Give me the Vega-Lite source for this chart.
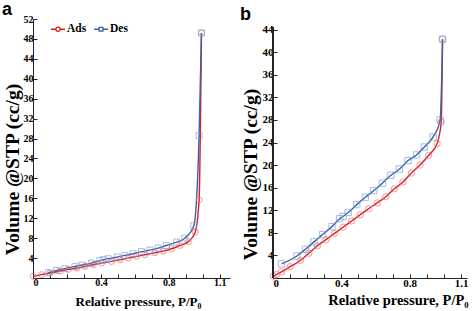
{
  "$schema": "https://vega.github.io/schema/vega-lite/v6.json",
  "padding": {"left": 2, "top": 1, "right": 2, "bottom": 2},
  "background": "white",
  "spacing": 10,
  "config": {
    "view": {"stroke": null},
    "font": "Liberation Serif",
    "axis": {
      "grid": false,
      "domainColor": "#222222",
      "tickColor": "#222222",
      "tickSize": -4,
      "labelOverlap": false,
      "labelBound": false,
      "labelFont": "Liberation Serif",
      "labelFontWeight": "bold",
      "labelColor": "#000000",
      "titleFont": "Liberation Serif",
      "titleFontWeight": "bold",
      "titleColor": "#000000"
    },
    "title": {"font": "Liberation Sans", "fontWeight": "bold", "fontSize": 18, "anchor": "start", "frame": "bounds", "color": "#000000"},
    "legend": {
      "orient": "none",
      "direction": "horizontal",
      "title": null,
      "symbolSize": 196,
      "symbolStrokeWidth": 1.3,
      "symbolFillColor": "transparent",
      "labelFont": "Liberation Serif",
      "labelFontWeight": "bold",
      "labelColor": "#000000",
      "labelOffset": 1,
      "columnPadding": 4
    }
  },
  "datasets": {
    "a": [
      {"series": "Ads", "p": 0.002, "v": 0.33},
      {"series": "Ads", "p": 0.051, "v": 0.67},
      {"series": "Ads", "p": 0.1, "v": 1.0},
      {"series": "Ads", "p": 0.159, "v": 1.4},
      {"series": "Ads", "p": 0.208, "v": 1.73},
      {"series": "Ads", "p": 0.257, "v": 2.0},
      {"series": "Ads", "p": 0.306, "v": 2.33},
      {"series": "Ads", "p": 0.355, "v": 2.67},
      {"series": "Ads", "p": 0.404, "v": 3.0},
      {"series": "Ads", "p": 0.463, "v": 3.33},
      {"series": "Ads", "p": 0.512, "v": 3.67},
      {"series": "Ads", "p": 0.561, "v": 4.0},
      {"series": "Ads", "p": 0.61, "v": 4.33},
      {"series": "Ads", "p": 0.659, "v": 4.67},
      {"series": "Ads", "p": 0.718, "v": 5.07},
      {"series": "Ads", "p": 0.767, "v": 5.4},
      {"series": "Ads", "p": 0.816, "v": 5.87},
      {"series": "Ads", "p": 0.865, "v": 6.53},
      {"series": "Ads", "p": 0.915, "v": 7.3},
      {"series": "Ads", "p": 0.955, "v": 9.2},
      {"series": "Ads", "p": 0.978, "v": 15.7},
      {"series": "Ads", "p": 0.992, "v": 49.2},
      {"series": "Des", "p": 0.09, "v": 1.07},
      {"series": "Des", "p": 0.139, "v": 1.53},
      {"series": "Des", "p": 0.188, "v": 1.87},
      {"series": "Des", "p": 0.247, "v": 2.33},
      {"series": "Des", "p": 0.29, "v": 2.6},
      {"series": "Des", "p": 0.345, "v": 3.0},
      {"series": "Des", "p": 0.394, "v": 3.5},
      {"series": "Des", "p": 0.414, "v": 3.67},
      {"series": "Des", "p": 0.443, "v": 3.87},
      {"series": "Des", "p": 0.496, "v": 4.2},
      {"series": "Des", "p": 0.541, "v": 4.53},
      {"series": "Des", "p": 0.59, "v": 4.87},
      {"series": "Des", "p": 0.639, "v": 5.3},
      {"series": "Des", "p": 0.688, "v": 5.6},
      {"series": "Des", "p": 0.737, "v": 6.0},
      {"series": "Des", "p": 0.786, "v": 6.53},
      {"series": "Des", "p": 0.845, "v": 7.2},
      {"series": "Des", "p": 0.894, "v": 8.0},
      {"series": "Des", "p": 0.947, "v": 10.5},
      {"series": "Des", "p": 0.978, "v": 28.6},
      {"series": "Des", "p": 0.992, "v": 49.2}
    ],
    "b": [
      {"series": "Ads", "p": 0.003, "v": 0.3},
      {"series": "Ads", "p": 0.02, "v": 0.6},
      {"series": "Ads", "p": 0.05, "v": 1.1},
      {"series": "Ads", "p": 0.1, "v": 2.0},
      {"series": "Ads", "p": 0.16, "v": 3.1},
      {"series": "Ads", "p": 0.21, "v": 4.4},
      {"series": "Ads", "p": 0.26, "v": 5.7},
      {"series": "Ads", "p": 0.31, "v": 6.8},
      {"series": "Ads", "p": 0.36, "v": 7.9},
      {"series": "Ads", "p": 0.41, "v": 9.0},
      {"series": "Ads", "p": 0.46, "v": 10.1},
      {"series": "Ads", "p": 0.51, "v": 11.2},
      {"series": "Ads", "p": 0.56, "v": 12.3},
      {"series": "Ads", "p": 0.61, "v": 13.3},
      {"series": "Ads", "p": 0.66, "v": 14.4},
      {"series": "Ads", "p": 0.71, "v": 15.8},
      {"series": "Ads", "p": 0.76, "v": 17.0},
      {"series": "Ads", "p": 0.81, "v": 18.6},
      {"series": "Ads", "p": 0.86, "v": 20.0},
      {"series": "Ads", "p": 0.91, "v": 21.7},
      {"series": "Ads", "p": 0.96, "v": 23.8},
      {"series": "Ads", "p": 0.984, "v": 27.6},
      {"series": "Ads", "p": 0.992, "v": 42.3},
      {"series": "Des", "p": 0.05, "v": 2.5},
      {"series": "Des", "p": 0.14, "v": 3.9},
      {"series": "Des", "p": 0.19, "v": 5.1},
      {"series": "Des", "p": 0.24, "v": 6.4},
      {"series": "Des", "p": 0.29, "v": 7.7},
      {"series": "Des", "p": 0.345, "v": 9.1},
      {"series": "Des", "p": 0.39, "v": 10.5},
      {"series": "Des", "p": 0.41, "v": 10.9},
      {"series": "Des", "p": 0.44, "v": 11.6},
      {"series": "Des", "p": 0.49, "v": 13.0},
      {"series": "Des", "p": 0.54, "v": 14.3},
      {"series": "Des", "p": 0.59, "v": 15.5},
      {"series": "Des", "p": 0.64, "v": 16.8},
      {"series": "Des", "p": 0.69, "v": 18.2},
      {"series": "Des", "p": 0.74, "v": 19.3},
      {"series": "Des", "p": 0.79, "v": 20.8},
      {"series": "Des", "p": 0.84, "v": 21.8},
      {"series": "Des", "p": 0.885, "v": 23.2},
      {"series": "Des", "p": 0.937, "v": 25.0},
      {"series": "Des", "p": 0.978, "v": 28.0},
      {"series": "Des", "p": 0.992, "v": 42.3}
    ]
  },
  "hconcat": [
    {
      "title": {"text": "a", "offset": -5},
      "width": 197,
      "height": 259,
      "data": {"name": "a"},
      "encoding": {
        "x": {"field": "p", "type": "quantitative", "scale": {"domain": [0, 1.16], "nice": false, "zero": false},
          "axis": {"values": [0, 0.1, 0.2, 0.3, 0.4, 0.5, 0.6, 0.7, 0.8, 0.9, 1.0, 1.1], "format": ".1~f",
            "labelExpr": "datum.value == 0 || datum.value == 0.4 || datum.value == 0.8 || datum.value == 1.1 ? datum.label : ''",
            "labelFontSize": 10, "labelPadding": 3, "titleFontSize": 13, "titlePadding": 8, "titleX": 105},
          "title": "Relative pressure, P/P₀"},
        "y": {"field": "v", "type": "quantitative", "scale": {"domain": [0, 52], "nice": false},
          "axis": {"values": [4, 8, 12, 16, 20, 24, 28, 32, 36, 40, 44, 48, 52], "labelFontSize": 10, "labelPadding": 4, "titleFontSize": 19.5, "titlePadding": 1, "titleY": 150},
          "title": "Volume @STP (cc/g)"}
      },
      "layer": [
        {
          "mark": {"type": "line", "interpolate": "monotone", "strokeWidth": 1.4},
          "encoding": {
            "color": {"field": "series", "type": "nominal", "scale": {"domain": ["Ads", "Des"], "range": ["#d91e25", "#3e5ea8"]},
              "legend": {"legendX": 17, "legendY": 2, "labelFontSize": 11.5,
                "encode": {"symbols": {"update": {"shape": {"signal": "datum.value === 'Ads' ? 'M-1,0H-0.3M0.3,0H1M-0.3,0A0.3,0.3 0 1,0 0.3,0A0.3,0.3 0 1,0 -0.3,0' : 'M-1,0H-0.27M0.27,0H1M-0.27,-0.27H0.27V0.27H-0.27Z'"}}}}}}
          }
        },
        {
          "transform": [{"filter": "datum.series === 'Ads'"}],
          "mark": {"type": "point", "shape": "circle", "filled": false, "size": 36, "strokeWidth": 1, "stroke": "#ec6a6a"},
          "encoding": {}
        },
        {
          "transform": [{"filter": "datum.series === 'Des'"}],
          "mark": {"type": "point", "shape": "square", "filled": false, "size": 36, "strokeWidth": 1, "stroke": "#7f9fd6"},
          "encoding": {}
        }
      ]
    },
    {
      "title": {"text": "b", "offset": -5},
      "width": 194,
      "height": 259,
      "data": {"name": "b"},
      "encoding": {
        "x": {"field": "p", "type": "quantitative", "scale": {"domain": [0, 1.135], "nice": false, "zero": false},
          "axis": {"values": [0, 0.1, 0.2, 0.3, 0.4, 0.5, 0.6, 0.7, 0.8, 0.9, 1.0, 1.1], "format": ".1~f",
            "labelExpr": "datum.value == 0 || datum.value == 0.4 || datum.value == 0.8 || datum.value == 1.1 ? datum.label : ''",
            "labelFontSize": 11, "labelPadding": 3, "titleFontSize": 14.5, "titlePadding": 5, "titleX": 125},
          "title": "Relative pressure, P/P₀"},
        "y": {"field": "v", "type": "quantitative", "scale": {"domain": [0, 45.88], "nice": false},
          "axis": {"values": [4, 8, 12, 16, 20, 24, 28, 32, 36, 40, 44], "domain": false, "labelFontSize": 11, "labelPadding": 4, "titleFontSize": 19.5, "titlePadding": 2, "titleY": 155},
          "title": "Volume @STP (cc/g)"}
      },
      "layer": [
        {
          "mark": {"type": "line", "interpolate": "monotone", "strokeWidth": 1.4},
          "encoding": {
            "color": {"field": "series", "type": "nominal", "scale": {"domain": ["Ads", "Des"], "range": ["#d91e25", "#3e5ea8"]},
              "legend": {"legendX": 20, "legendY": 2, "labelFontSize": 12,
                "encode": {"symbols": {"update": {"shape": {"signal": "datum.value === 'Ads' ? 'M-1,0H-0.3M0.3,0H1M-0.3,0A0.3,0.3 0 1,0 0.3,0A0.3,0.3 0 1,0 -0.3,0' : 'M-1,0H-0.27M0.27,0H1M-0.27,-0.27H0.27V0.27H-0.27Z'"}}}}}}
          }
        },
        {
          "transform": [{"filter": "datum.series === 'Ads'"}],
          "mark": {"type": "point", "shape": "circle", "filled": false, "size": 40, "strokeWidth": 1, "stroke": "#ec6a6a"},
          "encoding": {}
        },
        {
          "transform": [{"filter": "datum.series === 'Des'"}],
          "mark": {"type": "point", "shape": "square", "filled": false, "size": 40, "strokeWidth": 1, "stroke": "#7f9fd6"},
          "encoding": {}
        },
        {
          "mark": {"type": "rule", "color": "#222222", "strokeWidth": 1},
          "encoding": {
            "x": {"datum": 0, "type": "quantitative"},
            "y": {"datum": 0, "type": "quantitative"},
            "y2": {"datum": 44.3}
          }
        }
      ]
    }
  ]
}
